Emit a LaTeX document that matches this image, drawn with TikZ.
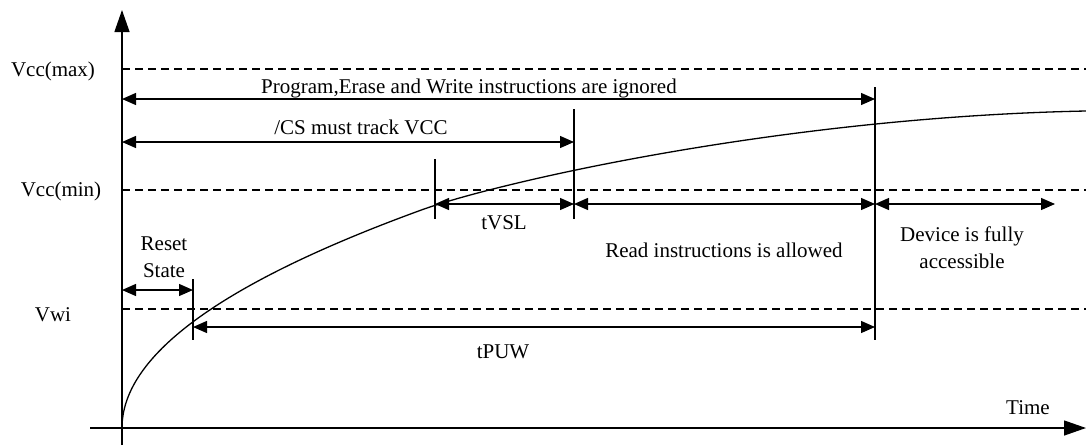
\documentclass[tikz,border=0pt]{standalone}
\usepackage{fontspec}
\setmainfont{Liberation Serif}
\usetikzlibrary{arrows.meta}
\begin{document}
\begin{tikzpicture}[x=1pt,y=-1pt,
  lbl/.style={font=\fontsize{21}{27}\selectfont, inner sep=0pt, align=center},
  ln/.style={line width=1.3pt},
  lvl/.style={line width=1.2pt, dash pattern=on 8pt off 5pt},
  tip/.style={Triangle[length=14pt,width=12pt]},
  dimarrow/.style={ln, {Triangle[length=14pt,width=12pt]}-{Triangle[length=14pt,width=12pt]}},
  axisarrow/.style={ln, -{Triangle[length=22pt,width=15pt]}}
]
\useasboundingbox (0,0) rectangle (1086,445);

% axes
\coordinate (yb) at (122,445);
\coordinate (yt) at (122,10);
\coordinate (xl) at (90,428);
\coordinate (xr) at (1086,428);
\draw[axisarrow] (yb) -- (yt);
\draw[axisarrow] (xl) -- (xr);

% level lines
\coordinate (max0) at (122,69);  \coordinate (max1) at (1086,69);
\coordinate (min0) at (122,190); \coordinate (min1) at (1086,190);
\coordinate (vwi0) at (122,309); \coordinate (vwi1) at (1086,309);
\draw[lvl] (max0) -- (max1);
\draw[lvl] (min0) -- (min1);
\draw[lvl] (vwi0) -- (vwi1);

\node[lbl] (lmax) at (53,71) {Vcc(max)};
\node[lbl] (lmin) at (61,191) {Vcc(min)};
\node[lbl] (lvwi) at (53,315) {Vwi};

% marker lines
\coordinate (m1t) at (193,279); \coordinate (m1b) at (193,340);
\coordinate (m2t) at (435,159); \coordinate (m2b) at (435,219);
\coordinate (m3t) at (574,109); \coordinate (m3b) at (574,219);
\coordinate (m4t) at (875,87);  \coordinate (m4b) at (875,340);
\draw[ln] (m1t) -- (m1b);
\draw[ln] (m2t) -- (m2b);
\draw[ln] (m3t) -- (m3b);
\draw[ln] (m4t) -- (m4b);

% curve
\draw[ln] plot[domain=0:17.32, samples=80, variable=\s, smooth] ({122+\s*\s},{428-12.6*\s})
  .. controls (502,181) and (786,117) .. (1086,111);

% dimension arrows
\coordinate (pa) at (122,99);  \coordinate (pb) at (875,99);
\coordinate (ca) at (122,142); \coordinate (cb) at (574,142);
\coordinate (ta) at (435,204); \coordinate (tb) at (574,204);
\coordinate (rb) at (875,204);
\coordinate (db) at (1055,204);
\coordinate (sa) at (122,290); \coordinate (sb) at (193,290);
\coordinate (ua) at (193,327); \coordinate (ub) at (875,327);
\draw[dimarrow] (pa) -- (pb);
\draw[dimarrow] (ca) -- (cb);
\draw[dimarrow] (ta) -- (tb);
\draw[dimarrow] (tb) -- (rb);
\draw[dimarrow] (rb) -- (db);
\draw[dimarrow] (sa) -- (sb);
\draw[dimarrow] (ua) -- (ub);

% labels
\node[lbl] (lprog) at (469,88) {Program,Erase and Write instructions are ignored};
\node[lbl] (lcs) at (361,127) {/CS must track VCC};
\node[lbl] (ltvsl) at (504,223) {tVSL};
\node[lbl] (lread) at (724,250) {Read instructions is allowed};
\node[lbl] (ldev) at (962,248) {Device is fully\\accessible};
\node[lbl] (lreset) at (164,257) {Reset\\State};
\node[lbl] (ltpuw) at (503,352) {tPUW};
\node[lbl] (ltime) at (1028,408) {Time};
\end{tikzpicture}
\end{document}
